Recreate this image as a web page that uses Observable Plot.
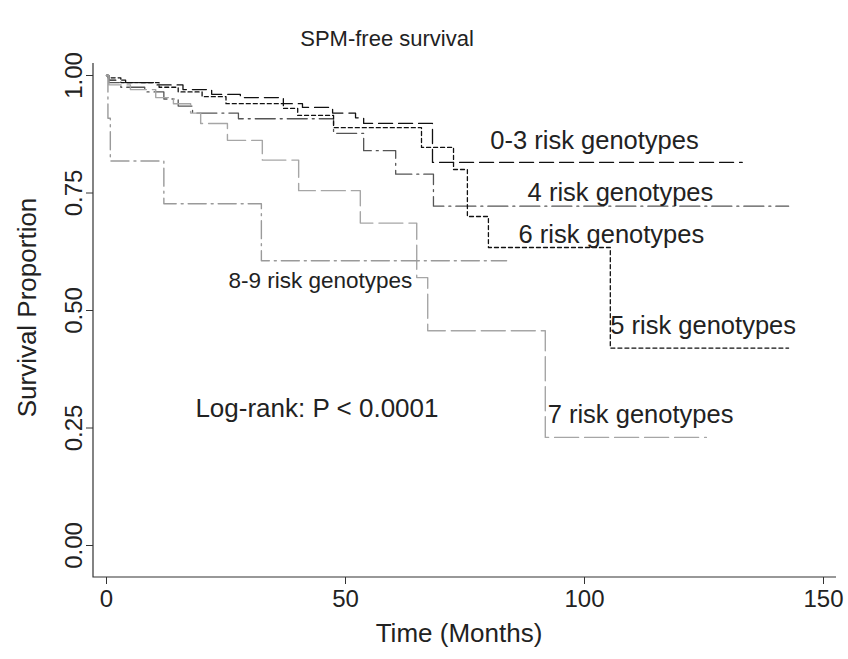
<!DOCTYPE html>
<html>
<head>
<meta charset="utf-8">
<script src="https://cdn.jsdelivr.net/npm/d3@7"></script>
<script src="https://cdn.jsdelivr.net/npm/@observablehq/plot@0.6"></script>
<style>
  html, body { margin: 0; padding: 0; background: #fff; }
  #chart svg { display: block; font-family: "Liberation Sans", Arial, Helvetica, sans-serif; }
</style>
</head>
<body>
<div id="chart"></div>
<script>
// ---- Data ----
const groupNames = ["0-3 risk genotypes", "4 risk genotypes", "5 risk genotypes", "7 risk genotypes", "8-9 risk genotypes"];

// Kaplan-Meier step curves: time (months) and survival proportion after each step
const time03 = [0, 0.5, 4, 10, 16, 22, 28, 37, 41, 47.3, 52.1, 53.8, 68.2, 133];
const surv03 = [1, 0.99, 0.985, 0.98, 0.97, 0.96, 0.953, 0.94, 0.932, 0.92, 0.91, 0.898, 0.815, 0.815];

const time4 = [0, 0.5, 3, 8, 12, 15, 18, 27.6, 47.5, 53.8, 60.5, 68.4, 142.7];
const surv4 = [1, 0.985, 0.975, 0.965, 0.95, 0.935, 0.92, 0.908, 0.877, 0.84, 0.79, 0.722, 0.722];

const time56 = [0, 0.3, 3, 11, 15, 20, 25, 37, 40, 47.5, 65.9, 72.6, 75.5, 79.9, 105.4, 142.7];
const surv56 = [1, 0.995, 0.985, 0.975, 0.965, 0.955, 0.94, 0.93, 0.915, 0.889, 0.847, 0.80, 0.70, 0.634, 0.42, 0.42];

const time7 = [0, 0.5, 5, 10.3, 14, 17.6, 19.7, 25.3, 32.6, 40.2, 53.1, 64.9, 67.2, 91.8, 125.5];
const surv7 = [1, 0.98, 0.97, 0.953, 0.94, 0.92, 0.898, 0.862, 0.82, 0.755, 0.686, 0.57, 0.457, 0.23, 0.23];

const time89 = [0, 0.3, 0.8, 12, 32.4, 83.7];
const surv89 = [1, 0.909, 0.818, 0.727, 0.606, 0.606];

// Axis ticks
const xTicks = [0, 50, 100, 150];
const yTicks = [0, 0.25, 0.5, 0.75, 1];

// In-plot annotations (text, anchor time, anchor survival)
const labelTexts = ["0-3 risk genotypes", "4 risk genotypes", "6 risk genotypes", "5 risk genotypes", "7 risk genotypes"];
const labelTime  = [80.3, 88.1, 86.2, 105.4, 92.3];
const labelSurv  = [0.862, 0.751, 0.662, 0.468, 0.277];
const smallLabelText = ["8-9 risk genotypes"];
const smallLabelTime = [25.5];
const smallLabelSurv = [0.564];
const testText = ["Log-rank: P < 0.0001"];
const testTime = [18.6];
const testSurv = [0.291];

// ---- Build tables ----
const curves = [
  {name: groupNames[0], t: time03, s: surv03},
  {name: groupNames[1], t: time4,  s: surv4},
  {name: groupNames[2], t: time56, s: surv56},
  {name: groupNames[3], t: time7,  s: surv7},
  {name: groupNames[4], t: time89, s: surv89}
].map(c => ({name: c.name, rows: c.t.map((t, i) => ({group: c.name, t, s: c.s[i]}))}));

const styles = {
  "0-3 risk genotypes": {stroke: "#111", dash: "14,6", width: 1.3},
  "4 risk genotypes":   {stroke: "#555", dash: "20,5,2,5", width: 1.3},
  "5 risk genotypes":   {stroke: "#111", dash: "4,3", width: 1.3},
  "7 risk genotypes":   {stroke: "#a6a6a6", dash: "24,6", width: 1.4},
  "8-9 risk genotypes": {stroke: "#9a9a9a", dash: "18,5,2,5", width: 1.4}
};

const toRows = (texts, ts, ss) => texts.map((text, i) => ({text, t: ts[i], s: ss[i]}));
const labels = toRows(labelTexts, labelTime, labelSurv);
const smallLabels = toRows(smallLabelText, smallLabelTime, smallLabelSurv);
const testLabel = toRows(testText, testTime, testSurv);

const axisLines = (index, scales, values, dimensions) => {
  const {width, height, marginTop, marginRight, marginBottom, marginLeft} = dimensions;
  const g = d3.create("svg:g").attr("fill", "none").attr("stroke", "#333").attr("stroke-width", 1.2);
  g.append("path").attr("d",
    `M${marginLeft},${marginTop}V${height - marginBottom}H${width - marginRight}`);
  return g.node();
};

const fontFamily = '"Liberation Sans", Arial, Helvetica, sans-serif';

const chart = Plot.plot({
  width: 848,
  height: 659,
  marginLeft: 93,
  marginRight: 12,
  marginTop: 63,
  marginBottom: 82,
  style: {fontFamily, color: "#222", background: "#fff"},
  x: {domain: [0, 150], insetLeft: 13, insetRight: 13},
  y: {domain: [0, 1], insetTop: 12, insetBottom: 32},
  marks: [
    axisLines,
    Plot.axisX({ticks: xTicks, tickSize: 7, tickPadding: 5, label: null, fontSize: 24, stroke: "#333", fill: "#222"}),
    Plot.axisY({ticks: yTicks, tickSize: 7, tickPadding: 5, tickRotate: -90, tickFormat: d3.format(".2f"), label: null, fontSize: 24, stroke: "#333", fill: "#222"}),
    ...curves.map(c => Plot.line(c.rows, {
      x: "t", y: "s", curve: "step-after",
      stroke: styles[c.name].stroke,
      strokeWidth: styles[c.name].width,
      strokeDasharray: styles[c.name].dash
    })),
    Plot.text(labels, {x: "t", y: "s", text: "text", textAnchor: "start", fontSize: 25.5, fill: "#222"}),
    Plot.text(smallLabels, {x: "t", y: "s", text: "text", textAnchor: "start", fontSize: 22.5, fill: "#222"}),
    Plot.text(testLabel, {x: "t", y: "s", text: "text", textAnchor: "start", fontSize: 26, fill: "#222"}),
    Plot.text(["SPM-free survival"], {frameAnchor: "top", textAnchor: "middle", lineAnchor: "middle", dx: -78, dy: -25, fontSize: 22, fill: "#222"}),
    Plot.text(["Time (Months)"], {frameAnchor: "bottom", textAnchor: "middle", lineAnchor: "middle", dx: -6, dy: 56, fontSize: 26, fill: "#222"}),
    Plot.text(["Survival Proportion"], {frameAnchor: "left", textAnchor: "middle", lineAnchor: "middle", dx: -66, dy: -13, rotate: -90, fontSize: 26, fill: "#222"})
  ]
});

document.getElementById("chart").appendChild(chart);
</script>
</body>
</html>
